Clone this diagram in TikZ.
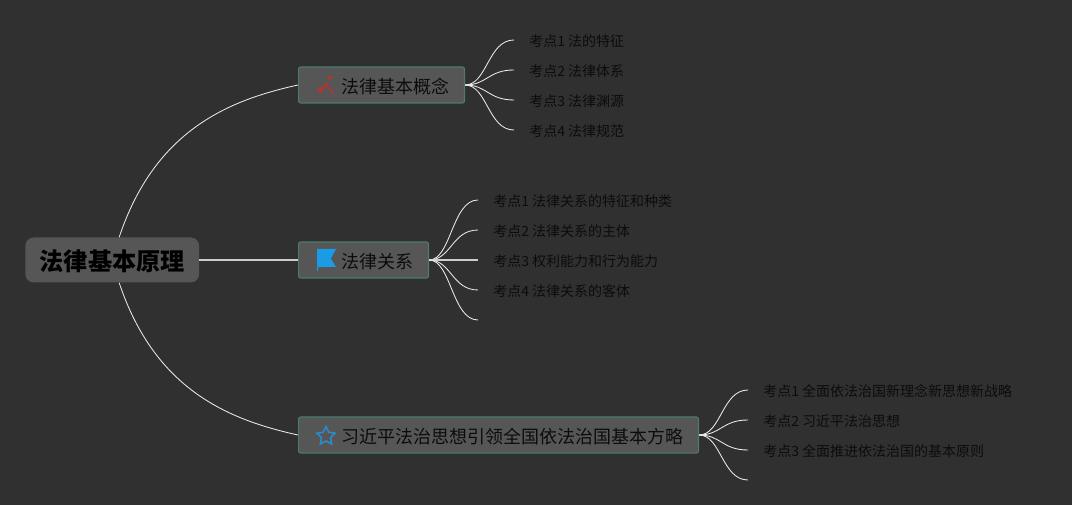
\documentclass[tikz,border=0pt]{standalone}
\usepackage{fontspec}
\setmainfont{Noto Sans CJK SC}
\usetikzlibrary{shapes.geometric}
\definecolor{bgdark}{HTML}{303030}
\definecolor{boxgray}{HTML}{565656}
\definecolor{boxedge}{HTML}{4E7A6E}
\definecolor{inkdark}{HTML}{0C0C0C}
\definecolor{iconred}{HTML}{B5352C}
\definecolor{iconblue}{HTML}{1A9BE6}
\definecolor{starblue}{HTML}{2B8CCB}

\begin{document}
\begin{tikzpicture}[x=1cm,y=1cm]
\tikzset{
  rootnode/.style={rectangle,rounded corners=6pt,fill=boxgray,anchor=west,minimum height=1.125cm,inner xsep=0.36cm,inner ysep=0pt,text=black,text height=16.5pt,text depth=2pt,font=\fontsize{17.2}{20}\selectfont\bfseries},
  topicnode/.style={rectangle,rounded corners=1.5pt,draw=boxedge,fill=boxgray,line width=0.8pt,anchor=west,minimum height=0.9cm,inner xsep=0.365cm,inner ysep=0pt,text=inkdark,text height=13pt,text depth=1.6pt,font=\fontsize{12.8}{15}\selectfont,execute at begin node=\hspace{0.72cm}},
  leafnode/.style={anchor=west,inner xsep=0.375cm,inner ysep=0pt,text=inkdark,text height=10.5pt,text depth=1.2pt,font=\fontsize{9.95}{12}\selectfont},
  mainedge/.style={draw=white!92!black,line width=0.6pt},
  straightedge/.style={draw=white!80!black,line width=1pt},
  forkedge/.style={draw=white!92!black,line width=0.6pt}
}
\path[use as bounding box,fill=bgdark] (0,0) rectangle (26.8,12.625);
\node[rootnode] (n_root) at (0.625,6.125) {法律基本原理};
\node[topicnode] (n_A) at (7.45,10.5) {法律基本概念};
\node[topicnode] (n_B) at (7.45,6.125) {法律关系};
\node[topicnode] (n_C) at (7.45,1.75) {习近平法治思想引领全国依法治国基本方略};
\node[leafnode] (l_A1) at (12.85,11.625) {考点1 法的特征};
\node[leafnode] (l_A2) at (12.85,10.875) {考点2 法律体系};
\node[leafnode] (l_A3) at (12.85,10.125) {考点3 法律渊源};
\node[leafnode] (l_A4) at (12.85,9.375) {考点4 法律规范};
\node[leafnode] (l_B1) at (11.95,7.625) {考点1 法律关系的特征和种类};
\node[leafnode] (l_B2) at (11.95,6.875) {考点2 法律关系的主体};
\node[leafnode] (l_B3) at (11.95,6.125) {考点3 权利能力和行为能力};
\node[leafnode] (l_B4) at (11.95,5.375) {考点4 法律关系的客体};
\coordinate (l_B5) at (11.95,4.625);
\node[leafnode] (l_C1) at (18.7,2.875) {考点1 全面依法治国新理念新思想新战略};
\node[leafnode] (l_C2) at (18.7,2.125) {考点2 习近平法治思想};
\node[leafnode] (l_C3) at (18.7,1.375) {考点3 全面推进依法治国的基本原则};
\coordinate (l_C4) at (18.7,0.625);
\draw[mainedge] (n_root.73) .. controls +(0.9,2.7) and +(-1.7,-0.375) .. (n_A.west);
\draw[straightedge] (n_root.east) -- (n_B.west);
\draw[mainedge] (n_root.-73) .. controls +(0.9,-2.7) and +(-1.7,0.375) .. (n_C.west);
\draw[forkedge] (n_A.east) .. controls +(0.55,0) and +(-0.65,0) .. (l_A1.west);
\draw[forkedge] (n_A.east) .. controls +(0.55,0) and +(-0.65,0) .. (l_A2.west);
\draw[forkedge] (n_A.east) .. controls +(0.55,0) and +(-0.65,0) .. (l_A3.west);
\draw[forkedge] (n_A.east) .. controls +(0.55,0) and +(-0.65,0) .. (l_A4.west);
\draw[forkedge] (n_B.east) .. controls +(0.55,0) and +(-0.65,0) .. (l_B1.west);
\draw[forkedge] (n_B.east) .. controls +(0.55,0) and +(-0.65,0) .. (l_B2.west);
\draw[straightedge] (n_B.east) -- (l_B3.west);
\draw[forkedge] (n_B.east) .. controls +(0.55,0) and +(-0.65,0) .. (l_B4.west);
\draw[forkedge] (n_B.east) .. controls +(0.55,0) and +(-0.65,0) .. (l_B5);
\draw[forkedge] (n_C.east) .. controls +(0.55,0) and +(-0.65,0) .. (l_C1.west);
\draw[forkedge] (n_C.east) .. controls +(0.55,0) and +(-0.65,0) .. (l_C2.west);
\draw[forkedge] (n_C.east) .. controls +(0.55,0) and +(-0.65,0) .. (l_C3.west);
\draw[forkedge] (n_C.east) .. controls +(0.55,0) and +(-0.65,0) .. (l_C4);
% icons
\draw[iconred,line width=1.3pt,line cap=round] (8.0,10.375) -- (8.2,10.55);
\fill[iconred] (8.01,10.37) circle (0.065);
\draw[iconred,line width=1.2pt,line cap=round] (8.17,10.5) -- (8.33,10.29);
\fill[iconred] (8.25,10.68) circle (0.05);
\fill[iconblue] (7.93,6.4) -- (8.4,6.4) -- (8.27,6.16) -- (8.4,5.95) -- (7.96,5.95) -- (7.95,5.85) -- (7.93,5.85) -- cycle;
\node[star,star points=5,star point ratio=2,draw=starblue,line width=1.1pt,minimum size=0.48cm,inner sep=0pt] (i_C) at (8.15,1.72) {};
\end{tikzpicture}
\end{document}
